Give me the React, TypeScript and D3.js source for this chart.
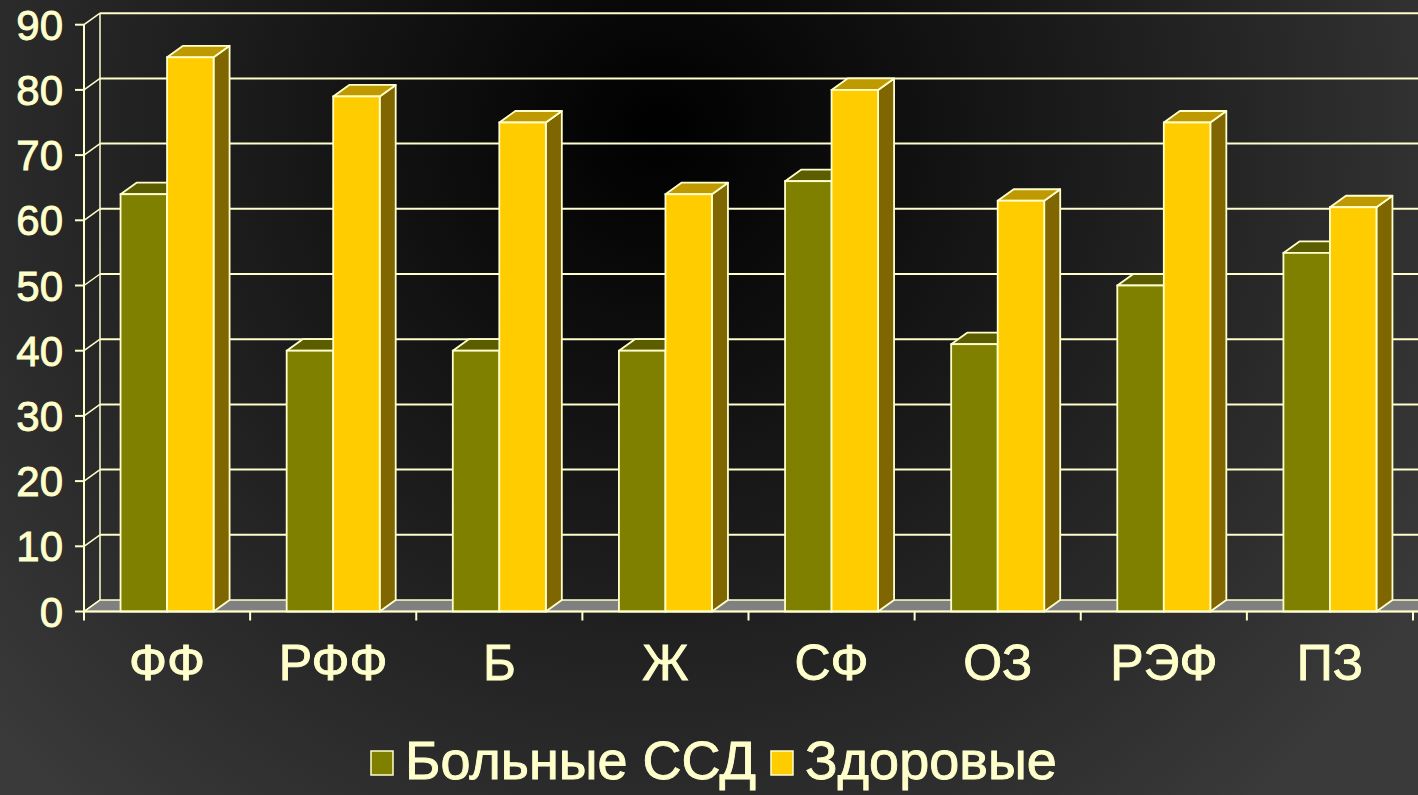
import React, { useEffect, useRef } from "react";
import * as d3 from "d3";

const categories = ["ФФ", "РФФ", "Б", "Ж", "СФ", "ОЗ", "РЭФ", "ПЗ"];
const seriesNames = ["Больные ССД", "Здоровые"];
const patients = [64, 40, 40, 40, 66, 41, 50, 55];
const healthy = [85, 79, 75, 64, 80, 63, 75, 62];
const valueTicks = [0, 10, 20, 30, 40, 50, 60, 70, 80, 90];

const FRONT = ["#808000", "#FFCC00"];
const TOP = ["#5c5c00", "#bf9900"];
const SIDE = ["#404000", "#806600"];
const LINE = "#FFFFCC";
const FONT = "'Liberation Sans', Arial, sans-serif";

export default function App() {
  const svgRef = useRef<SVGSVGElement>(null);
  const width = 1418;
  const height = 795;

  useEffect(() => {
    const svg = d3.select(svgRef.current);
    svg.selectAll("*").remove();

    // --- background ---
    const defs = svg.append("defs");
    const grad = defs.append("radialGradient")
      .attr("id", "bg")
      .attr("gradientUnits", "userSpaceOnUse")
      .attr("cx", 660).attr("cy", 130).attr("r", 900);
    grad.append("stop").attr("offset", "0%").attr("stop-color", "#000");
    grad.append("stop").attr("offset", "100%").attr("stop-color", "#3a3a3a");
    svg.append("rect").attr("width", width).attr("height", height).attr("fill", "url(#bg)");

    // 3D depth offset
    const dx = 16, dy = -11.5;
    const left = 84, right = 1413;

    const y = d3.scaleLinear().domain([0, 90]).range([611.5, 24.7]);
    const x0 = d3.scaleBand().domain(categories).range([left, right]).padding(0);
    const bw = x0.bandwidth();
    const x1 = d3.scaleBand().domain(seriesNames).range([bw * 0.22, bw * 0.78]).padding(0);

    const g = svg.append("g");

    // --- floor ---
    g.append("path")
      .attr("d", `M${left},${y(0)} L${left + dx},${y(0) + dy} L${width + 40},${y(0) + dy} L${width + 40},${y(0)} Z`)
      .attr("fill", "#808080")
      .attr("stroke", LINE).attr("stroke-width", 1.5);

    // --- back wall gridlines and left wall ---
    g.selectAll(".grid")
      .data(valueTicks.filter(d => d > 0))
      .join("line")
      .attr("x1", left + dx).attr("x2", width + 10)
      .attr("y1", d => y(d) + dy).attr("y2", d => y(d) + dy)
      .attr("stroke", LINE).attr("stroke-width", 2);

    g.selectAll(".wall")
      .data(valueTicks)
      .join("line")
      .attr("x1", left).attr("x2", left + dx)
      .attr("y1", d => y(d)).attr("y2", d => y(d) + dy)
      .attr("stroke", LINE).attr("stroke-width", 1.5);

    g.append("line")
      .attr("x1", left + dx).attr("x2", left + dx)
      .attr("y1", y(90) + dy).attr("y2", y(0) + dy)
      .attr("stroke", LINE).attr("stroke-width", 1.5);

    // --- bars ---
    const rows = categories.map((c, i) => ({ c, vals: [patients[i], healthy[i]] }));
    rows.forEach(row => {
      row.vals.forEach((v, s) => {
        const bx = (x0(row.c) as number) + (x1(seriesNames[s]) as number);
        const w = x1.bandwidth();
        const top = y(v), base = y(0);
        const bar = g.append("g");
        bar.append("path")
          .attr("d", `M${bx + w},${top} L${bx + w + dx},${top + dy} L${bx + w + dx},${base + dy} L${bx + w},${base} Z`)
          .attr("fill", SIDE[s]).attr("stroke", LINE).attr("stroke-width", 1.8).attr("stroke-linejoin", "round");
        bar.append("path")
          .attr("d", `M${bx},${top} L${bx + dx},${top + dy} L${bx + w + dx},${top + dy} L${bx + w},${top} Z`)
          .attr("fill", TOP[s]).attr("stroke", LINE).attr("stroke-width", 1.8).attr("stroke-linejoin", "round");
        bar.append("rect")
          .attr("x", bx).attr("y", top).attr("width", w).attr("height", base - top)
          .attr("fill", FRONT[s]).attr("stroke", LINE).attr("stroke-width", 1.8);
      });
    });

    // --- value axis ---
    g.append("line")
      .attr("x1", left).attr("x2", left)
      .attr("y1", y(90)).attr("y2", y(0))
      .attr("stroke", LINE).attr("stroke-width", 2);
    g.selectAll(".vtick")
      .data(valueTicks)
      .join("line")
      .attr("x1", left - 9).attr("x2", left)
      .attr("y1", d => y(d)).attr("y2", d => y(d))
      .attr("stroke", LINE).attr("stroke-width", 2);
    g.selectAll(".vlabel")
      .data(valueTicks)
      .join("text")
      .attr("x", 63).attr("y", d => y(d))
      .attr("dy", "0.36em")
      .attr("text-anchor", "end")
      .attr("fill", LINE)
      .attr("stroke", LINE).attr("stroke-width", 0.9)
      .style("font-family", FONT).style("font-size", "42px")
      .text(d => d);

    // --- category axis ---
    g.append("line")
      .attr("x1", left).attr("x2", width)
      .attr("y1", y(0)).attr("y2", y(0))
      .attr("stroke", LINE).attr("stroke-width", 2);
    g.selectAll(".ctick")
      .data(d3.range(categories.length + 1))
      .join("line")
      .attr("x1", i => left + i * bw).attr("x2", i => left + i * bw)
      .attr("y1", y(0)).attr("y2", y(0) + 9)
      .attr("stroke", LINE).attr("stroke-width", 2);
    g.selectAll(".clabel")
      .data(categories)
      .join("text")
      .attr("x", d => (x0(d) as number) + bw / 2)
      .attr("y", 680)
      .attr("text-anchor", "middle")
      .attr("fill", LINE)
      .attr("stroke", LINE).attr("stroke-width", 0.9)
      .style("font-family", FONT).style("font-size", "50px")
      .text(d => d);

    // --- legend ---
    const legend = g.append("g");
    let lx = 371;
    seriesNames.forEach((name, s) => {
      legend.append("rect")
        .attr("x", lx).attr("y", 751).attr("width", 22).attr("height", 24)
        .attr("fill", FRONT[s]).attr("stroke", LINE).attr("stroke-width", 1.5);
      const t = legend.append("text")
        .attr("x", lx + 34).attr("y", 779)
        .attr("fill", LINE)
        .attr("stroke", LINE).attr("stroke-width", 0.9)
        .style("font-family", FONT).style("font-size", "54px")
        .text(name);
      const len = (t.node() as SVGTextElement).getComputedTextLength();
      lx = lx + 34 + len + 15;
    });
  }, []);

  return (
    <svg
      ref={svgRef}
      width={width}
      height={height}
      style={{ position: "absolute", left: 0, top: 0, display: "block" }}
    />
  );
}
